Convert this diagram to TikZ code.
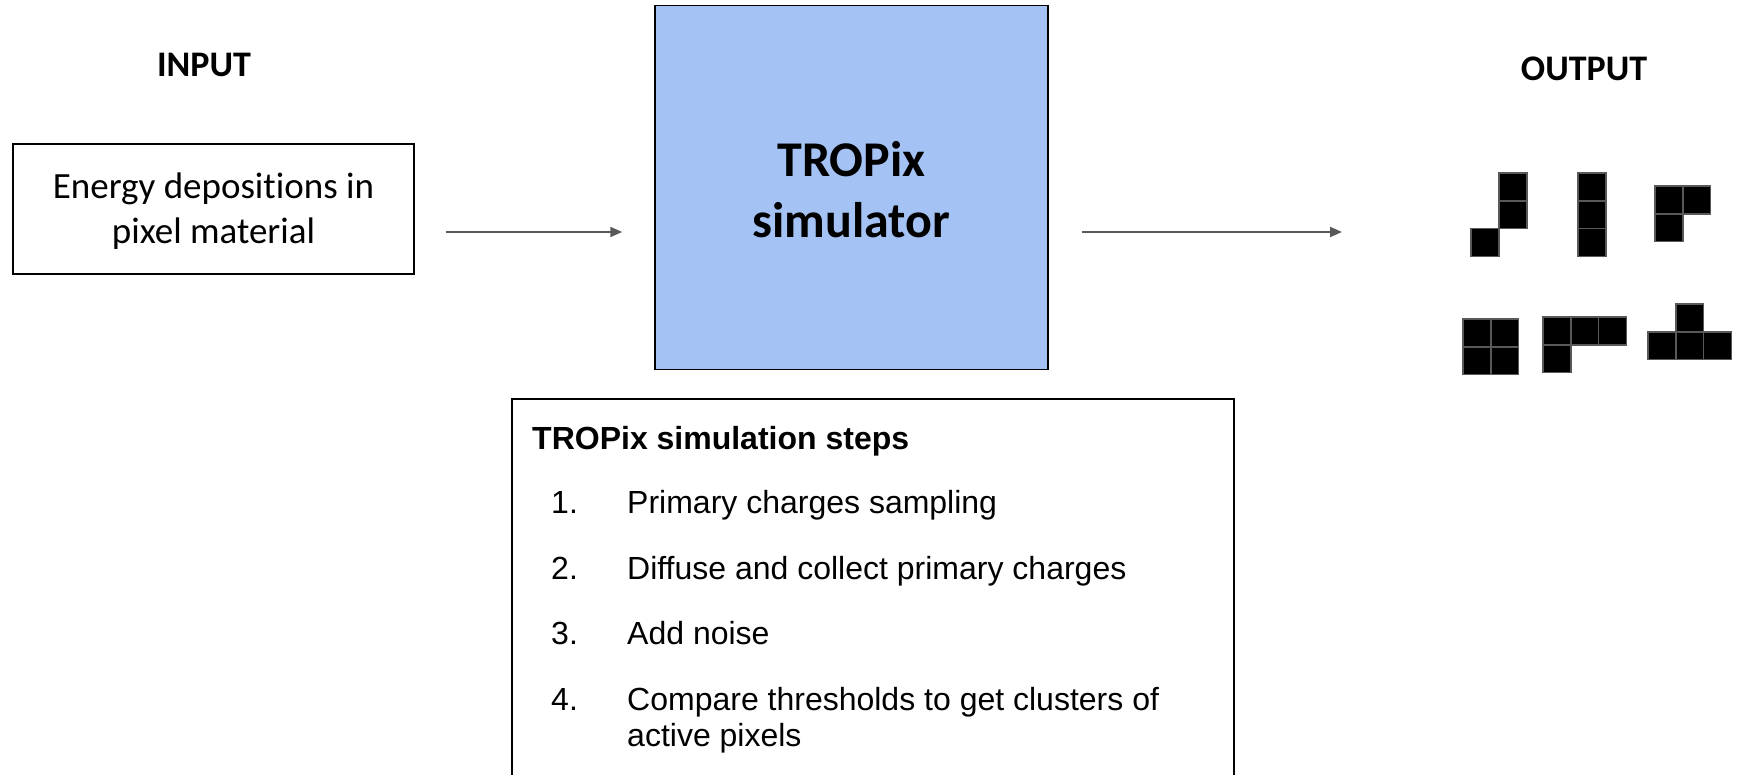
\documentclass[tikz,border=0pt]{standalone}
\usepackage{fontspec}
\setmainfont{Carlito}[Ligatures=NoCommon]
\newfontfamily\arialf{Liberation Sans}
\usetikzlibrary{arrows.meta}
\definecolor{simblue}{HTML}{A4C2F4}
\definecolor{arrgray}{HTML}{595959}
\begin{document}
\begin{tikzpicture}[x=1pt,y=-1pt,
  box/.style={draw=black, line width=1.5pt, inner sep=0pt},
  arr/.style={draw=arrgray, line width=2pt, -{Triangle[length=12pt,width=10pt]}},
  cell/.style={fill=black, draw=arrgray, line width=1.5pt},
  head/.style={font=\fontsize{36}{43}\selectfont\bfseries, inner sep=0pt},
  steptext/.style={font=\arialf\fontsize{32}{36}\selectfont, anchor=base west, inner sep=0pt},
  stepbold/.style={font=\arialf\bfseries\fontsize{32}{36}\selectfont, anchor=base west, inner sep=0pt}
]
\useasboundingbox (0,0) rectangle (1739,775);
\fill[white] (0,0) rectangle (1739,775);

% headers
\node[head] (inlabel) at (204,65) {INPUT};
\node[head] (outlabel) at (1584,69) {OUTPUT};

% input box
\node[box, minimum width=401pt, minimum height=130pt] (inbox) at (213.5,209) {};
\node[align=center, inner sep=0pt, font=\fontsize{37}{45}\selectfont] (intext) at (213.5,211)
  {Energy depositions in\\pixel material};

% simulator box
\node[box, fill=simblue, minimum width=393pt, minimum height=364pt] (sim) at (851.5,187.5) {};
\node[align=center, inner sep=0pt, font=\fontsize{50}{61}\selectfont\bfseries] (simtext) at (851.5,190)
  {TROPix\\simulator};

% output anchor
\coordinate (outpt) at (1342,232);

% arrows
\draw[arr, shorten <=31pt, shorten >=32pt] (inbox.east |- 0,232) -- (sim.west |- 0,232);
\draw[arr, shorten <=33pt] (sim.east |- 0,232) -- (outpt);

% steps box
\node[box, minimum width=722pt, minimum height=392pt, anchor=north west] (steps) at (511,398) {};
\node[stepbold] (st0) at (532,449) {TROPix simulation steps};
\node[steptext] (n1) at (551,513) {1.};
\node[steptext] (t1) at (627,513) {Primary charges sampling};
\node[steptext] (n2) at (551,579) {2.};
\node[steptext] (t2) at (627,579) {Diffuse and collect primary charges};
\node[steptext] (n3) at (551,644) {3.};
\node[steptext] (t3) at (627,644) {Add noise};
\node[steptext] (n4) at (551,710) {4.};
\node[steptext] (t4) at (627,710) {Compare thresholds to get clusters of};
\node[steptext] (t4b) at (627,746) {active pixels};

% output clusters
\def\cs{27.8}
\foreach \x/\y in {1499/173, 1499/200.8, 1471/228.6,
                   1578/173, 1578/200.8, 1578/228.6,
                   1655/186, 1682.8/186, 1655/213.8,
                   1463/319, 1490.8/319, 1463/346.8, 1490.8/346.8,
                   1543/317, 1570.8/317, 1598.6/317, 1543/344.8,
                   1675.8/304, 1648/331.8, 1675.8/331.8, 1703.6/331.8}
  \draw[cell] (\x,\y) rectangle ++(\cs,\cs);
\end{tikzpicture}
\end{document}
